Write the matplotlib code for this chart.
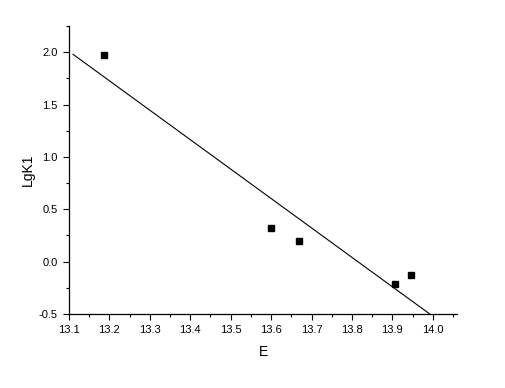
import matplotlib
matplotlib.use("Agg")
import matplotlib.pyplot as plt
import numpy as np
from matplotlib.ticker import MultipleLocator

plt.rcParams['font.family'] = ['Liberation Sans', 'DejaVu Sans']

E = [13.186, 13.600, 13.668, 13.906, 13.946]
lgk1 = [1.97, 0.32, 0.20, -0.21, -0.125]

# linear fit like origin does
k, b = np.polyfit(E, lgk1, 1)
fx = np.array([13.11, 14.06])
fy = k * fx + b

fig = plt.figure(figsize=(5.05, 3.88), dpi=100)
ax = fig.add_axes([0.1366, 0.1907, 0.7684, 0.7423])

ax.plot(fx, fy, color='black', lw=0.8)
ax.plot(E, lgk1, 's', color='black', ms=4.3, mec='black')

ax.set_xlim(13.1, 14.06)
ax.set_ylim(-0.5, 2.25)
ax.xaxis.set_major_locator(MultipleLocator(0.1))
ax.xaxis.set_minor_locator(MultipleLocator(0.05))
ax.yaxis.set_major_locator(MultipleLocator(0.5))
ax.yaxis.set_minor_locator(MultipleLocator(0.25))
ax.xaxis.set_major_formatter(matplotlib.ticker.FormatStrFormatter('%.1f'))
ax.yaxis.set_major_formatter(matplotlib.ticker.FormatStrFormatter('%.1f'))

for s in ['top', 'right']:
    ax.spines[s].set_visible(False)
for s in ['left', 'bottom']:
    ax.spines[s].set_linewidth(0.9)

ax.tick_params(which='major', direction='out', length=4, width=0.8, labelsize=8, pad=4)
ax.tick_params(which='minor', direction='out', length=2, width=0.8)

ax.set_xlabel('E', fontsize=10, labelpad=7)
ax.set_ylabel('LgK1', fontsize=10, labelpad=3)

fig.savefig('out.png', dpi=100)
